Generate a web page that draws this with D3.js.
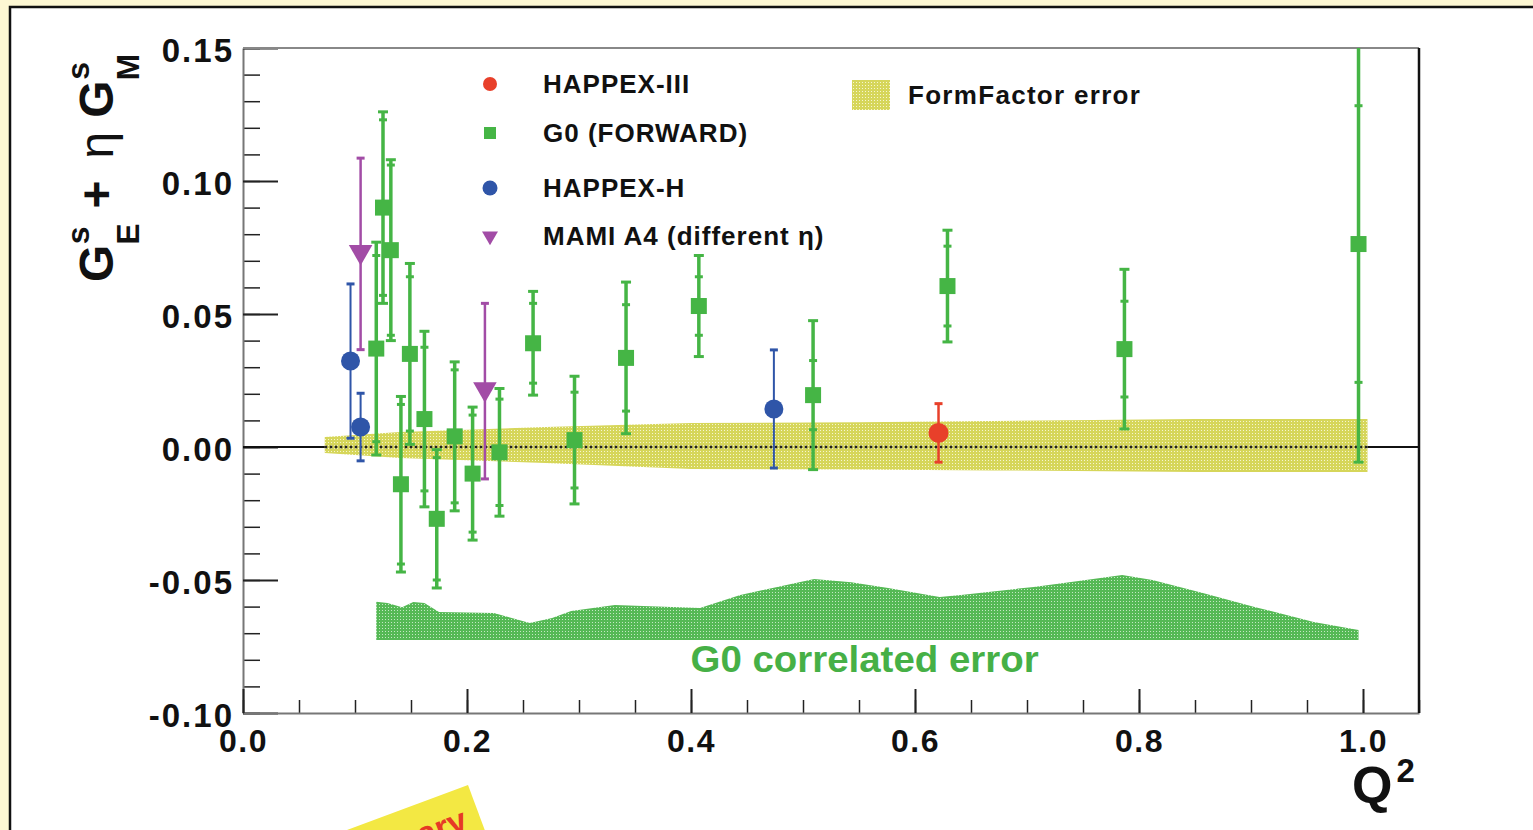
<!DOCTYPE html>
<html>
<head>
<title>Strange form factors vs Q2</title>
<script src="https://d3js.org/d3.v7.min.js"></script>
<style>
    body { margin: 0; background: #fdf7d3; }
    svg { display: block; }
    text { font-family: "Liberation Sans", Arial, sans-serif; font-weight: bold; }
</style>
</head>
<body>
<svg id="chart" width="1533" height="830"></svg>
<script>
// ---- data ----
// G0 (FORWARD): Q2, value, stat error (inner ticks), total error (outer caps)
const g0Q2   = [0.119, 0.125, 0.132, 0.141, 0.149, 0.162, 0.173, 0.189, 0.205, 0.229, 0.259, 0.296, 0.342, 0.407, 0.509, 0.629, 0.787, 0.996];
const g0Val  = [0.037, 0.090, 0.074, -0.014, 0.035, 0.0105, -0.027, 0.004, -0.010, -0.002, 0.039, 0.0026, 0.0335, 0.053, 0.0195, 0.0605, 0.0368, 0.0763];
const g0Stat = [0.035, 0.033, 0.032, 0.030, 0.029, 0.027, 0.023, 0.025, 0.022, 0.020, 0.015, 0.018, 0.020, 0.011, 0.013, 0.015, 0.018, 0.052];
const g0Tot  = [0.040, 0.036, 0.034, 0.033, 0.034, 0.033, 0.026, 0.028, 0.025, 0.024, 0.0195, 0.024, 0.0285, 0.019, 0.028, 0.021, 0.030, 0.082];

const hapHQ2  = [0.096, 0.105, 0.474];
const hapHVal = [0.0323, 0.0075, 0.0143];
const hapHErr = [0.029, 0.0127, 0.0222];

const hap3Q2  = [0.621];
const hap3Val = [0.0053];
const hap3Err = [0.011];

const mamiQ2  = [0.105, 0.216];
const mamiVal = [0.0726, 0.021];
const mamiErr = [0.036, 0.033];

// FormFactor error band
const ffQ2 = [0.073, 0.10, 0.14, 0.20, 0.27, 0.40, 0.55, 0.67, 0.85, 1.004];
const ffHi = [0.0038, 0.0045, 0.0056, 0.0065, 0.0075, 0.0090, 0.0093, 0.0098, 0.0105, 0.0105];
const ffLo = [-0.0023, -0.0030, -0.0041, -0.0050, -0.0060, -0.0083, -0.0085, -0.0088, -0.0094, -0.0094];

// G0 correlated error band (top edge, flat bottom)
const corrQ2  = [0.119, 0.129, 0.142, 0.152, 0.162, 0.175, 0.224, 0.240, 0.256, 0.276, 0.293, 0.332, 0.408, 0.444, 0.477, 0.510, 0.543, 0.576, 0.622, 0.641, 0.706, 0.746, 0.785, 0.812, 0.857, 0.904, 0.956, 0.996];
const corrTop = [-0.0582, -0.0586, -0.0602, -0.0583, -0.0586, -0.0620, -0.0624, -0.0643, -0.0662, -0.0643, -0.0617, -0.0594, -0.0605, -0.0556, -0.0526, -0.0496, -0.0508, -0.0530, -0.0564, -0.0556, -0.0526, -0.0504, -0.0481, -0.0500, -0.0549, -0.0602, -0.0658, -0.0688];
const corrBottom = -0.0726;

const xMajor = [0, 0.2, 0.4, 0.6, 0.8, 1.0];
const yMajor = [-0.10, -0.05, 0, 0.05, 0.10, 0.15];

const legendLabels = ["HAPPEX-III", "G0 (FORWARD)", "HAPPEX-H", "MAMI A4 (different \u03b7)"];

const colGreen = "#45b545", colRed = "#e8402a", colBlue = "#2f55a8", colPurple = "#a24ca6";

// ---- layout ----
const svg = d3.select("#chart");
const frame = { left: 243, right: 1419, top: 48, bottom: 713 };

const x = d3.scaleLinear().domain([0, 1.05]).range([frame.left, frame.right]);
const y = d3.scaleLinear().domain([-0.10, 0.15]).range([frame.bottom, frame.top]);

// page: yellow margin with a white sheet
svg.append("rect").attr("width", 1533).attr("height", 830).attr("fill", "#fdf7d3");
svg.append("rect").attr("x", 10).attr("y", 7).attr("width", 1600).attr("height", 900)
    .attr("fill", "#fff").attr("stroke", "#111").attr("stroke-width", 2.5);

const defs = svg.append("defs");
const ffPat = defs.append("pattern").attr("id", "ffHatch").attr("patternUnits", "userSpaceOnUse")
    .attr("width", 3).attr("height", 3);
ffPat.append("rect").attr("width", 3).attr("height", 3).attr("fill", "#d6d65a");
ffPat.append("rect").attr("x", 1).attr("y", 1).attr("width", 1).attr("height", 1).attr("fill", "#f6f6d0");
const gPat = defs.append("pattern").attr("id", "g0Hatch").attr("patternUnits", "userSpaceOnUse")
    .attr("width", 3).attr("height", 3);
gPat.append("rect").attr("width", 3).attr("height", 3).attr("fill", "#55b955");
gPat.append("rect").attr("x", 1).attr("y", 1).attr("width", 1).attr("height", 1).attr("fill", "#c4e8c4");
defs.append("clipPath").attr("id", "plotClip").append("rect")
    .attr("x", frame.left).attr("y", frame.top)
    .attr("width", frame.right - frame.left).attr("height", frame.bottom - frame.top);

// ---- axes ----
const fmtY = d => d.toFixed(2);
const fmtX = d => d.toFixed(1);

const yMinor = d3.range(-0.10, 0.1501, 0.01).map(v => +v.toFixed(2));
const xMinor = d3.range(0, 1.0501, 0.05).map(v => +v.toFixed(2));

svg.append("g").attr("transform", `translate(${frame.left},0)`)
    .call(d3.axisLeft(y).tickValues(yMinor).tickSize(-17).tickSizeOuter(0).tickFormat(""))
    .call(g => g.select(".domain").remove())
    .selectAll("line").attr("stroke", "#222").attr("stroke-width", 1.5);

svg.append("g").attr("class", "y-axis").attr("transform", `translate(${frame.left},0)`)
    .call(d3.axisLeft(y).tickValues(yMajor).tickSize(-35).tickSizeOuter(0).tickPadding(9).tickFormat(fmtY))
    .call(g => g.select(".domain").attr("stroke", "#777").attr("stroke-width", 2))
    .call(g => g.selectAll("line").attr("stroke", "#222").attr("stroke-width", 2))
    .selectAll("text")
        .attr("dy", "0.4em")
        .style("font-size", "33px").style("letter-spacing", "2px").attr("fill", "#111");

svg.append("g").attr("transform", `translate(0,${frame.bottom})`)
    .call(d3.axisBottom(x).tickValues(xMinor).tickSize(-13).tickSizeOuter(0).tickFormat(""))
    .call(g => g.select(".domain").remove())
    .selectAll("line").attr("stroke", "#222").attr("stroke-width", 1.5);

svg.append("g").attr("transform", `translate(0,${frame.bottom})`)
    .call(d3.axisBottom(x).tickValues(xMajor).tickSize(-24).tickSizeOuter(0).tickPadding(16).tickFormat(fmtX))
    .call(g => g.select(".domain").attr("stroke", "#777").attr("stroke-width", 2))
    .call(g => g.selectAll("line").attr("stroke", "#222").attr("stroke-width", 2))
    .selectAll("text")
        .style("font-size", "32px").style("letter-spacing", "1.5px").attr("fill", "#111");

// frame top and right
svg.append("line").attr("x1", frame.left).attr("x2", frame.right).attr("y1", frame.top).attr("y2", frame.top)
    .attr("stroke", "#888").attr("stroke-width", 2);
svg.append("line").attr("x1", frame.right).attr("x2", frame.right).attr("y1", frame.top).attr("y2", frame.bottom)
    .attr("stroke", "#111").attr("stroke-width", 2.5);

// zero line
svg.append("line").attr("x1", frame.left).attr("x2", frame.right).attr("y1", y(0)).attr("y2", y(0))
    .attr("stroke", "#111").attr("stroke-width", 2);

const plot = svg.append("g").attr("clip-path", "url(#plotClip)");

// ---- bands ----
const ffData = ffQ2.map((q, i) => ({ q: q, lo: ffLo[i], hi: ffHi[i] }));
plot.append("path").datum(ffData)
    .attr("d", d3.area().x(d => x(d.q)).y0(d => y(d.lo)).y1(d => y(d.hi)))
    .attr("fill", "url(#ffHatch)");
plot.append("line").attr("x1", x(ffQ2[0])).attr("x2", x(ffQ2[ffQ2.length - 1]))
    .attr("y1", y(0)).attr("y2", y(0))
    .attr("stroke", "#222").attr("stroke-width", 2.5).attr("stroke-dasharray", "2.5,2.5");

const corrData = corrQ2.map((q, i) => ({ q: q, top: corrTop[i] }));
plot.append("path").datum(corrData)
    .attr("d", d3.area().x(d => x(d.q)).y0(y(corrBottom)).y1(d => y(d.top)))
    .attr("fill", "url(#g0Hatch)");

svg.append("text").attr("x", x(0.555)).attr("y", 672).attr("text-anchor", "middle")
    .attr("textLength", 348).attr("lengthAdjust", "spacingAndGlyphs")
    .style("font-size", "36px").attr("fill", "#46b046").text("G0 correlated error");

// ---- error bars and markers ----
function errBars(q, v, e, color, width, cap) {
    const rows = q.map((d, i) => ({ q: d, v: v[i], e: e[i] }));
    const g = plot.append("g").attr("stroke", color).attr("stroke-width", width);
    g.selectAll(".bar").data(rows).enter().append("line")
        .attr("x1", d => x(d.q)).attr("x2", d => x(d.q))
        .attr("y1", d => y(d.v + d.e)).attr("y2", d => y(d.v - d.e));
    [1, -1].forEach(s => {
        g.selectAll(".cap" + s).data(rows).enter().append("line")
            .attr("x1", d => x(d.q) - cap / 2).attr("x2", d => x(d.q) + cap / 2)
            .attr("y1", d => y(d.v + s * d.e)).attr("y2", d => y(d.v + s * d.e))
            .attr("stroke-width", 3);
    });
    return rows;
}

// G0
const g0Rows = errBars(g0Q2, g0Val, g0Tot, colGreen, 3.5, 10);
const g0Stats = plot.append("g").attr("stroke", colGreen).attr("stroke-width", 3);
[1, -1].forEach(s => {
    g0Stats.selectAll(".st" + s).data(g0Q2.map((q, i) => ({ q: q, v: g0Val[i], e: g0Stat[i] })))
        .enter().append("line")
        .attr("x1", d => x(d.q) - 4).attr("x2", d => x(d.q) + 4)
        .attr("y1", d => y(d.v + s * d.e)).attr("y2", d => y(d.v + s * d.e));
});
plot.append("g").selectAll("rect").data(g0Rows).enter().append("rect")
    .attr("x", d => x(d.q) - 8).attr("y", d => y(d.v) - 8).attr("width", 16).attr("height", 16)
    .attr("fill", colGreen);

// HAPPEX-H
const hRows = errBars(hapHQ2, hapHVal, hapHErr, colBlue, 2, 8);
plot.append("g").selectAll("circle").data(hRows).enter().append("circle")
    .attr("cx", d => x(d.q)).attr("cy", d => y(d.v)).attr("r", 9.5).attr("fill", colBlue);

// MAMI A4
const mRows = errBars(mamiQ2, mamiVal, mamiErr, colPurple, 2.5, 8);
plot.append("g").selectAll("path").data(mRows).enter().append("path")
    .attr("d", d3.symbol(d3.symbolTriangle, 240))
    .attr("transform", d => `translate(${x(d.q)},${y(d.v) - 2}) rotate(180)`)
    .attr("fill", colPurple);

// HAPPEX-III
const rRows = errBars(hap3Q2, hap3Val, hap3Err, colRed, 2.5, 8);
plot.append("g").selectAll("circle").data(rRows).enter().append("circle")
    .attr("cx", d => x(d.q)).attr("cy", d => y(d.v)).attr("r", 10).attr("fill", colRed);

// ---- legend ----
const legY = [84, 133, 188, 236];
const leg = svg.append("g");
leg.append("circle").attr("cx", 490).attr("cy", legY[0]).attr("r", 7).attr("fill", colRed);
leg.append("rect").attr("x", 484).attr("y", legY[1] - 6).attr("width", 12).attr("height", 12).attr("fill", colGreen);
leg.append("circle").attr("cx", 490).attr("cy", legY[2]).attr("r", 7.5).attr("fill", colBlue);
leg.append("path").attr("d", d3.symbol(d3.symbolTriangle, 110))
    .attr("transform", `translate(490,${legY[3]}) rotate(180)`).attr("fill", colPurple);
leg.selectAll("text").data(legendLabels).enter().append("text")
    .attr("x", 543).attr("y", (d, i) => legY[i] + 9)
    .style("font-size", "26px").style("letter-spacing", "1px").attr("fill", "#111")
    .text(d => d);
leg.append("rect").attr("x", 852).attr("y", 80).attr("width", 38).attr("height", 30).attr("fill", "url(#ffHatch)");
leg.append("text").attr("x", 908).attr("y", 104)
    .style("font-size", "26px").style("letter-spacing", "1.3px").attr("fill", "#111").text("FormFactor error");

// ---- axis titles ----
const yt = svg.append("text").attr("transform", "translate(113,282) rotate(-90)")
    .style("font-size", "48px").attr("fill", "#111");
yt.append("tspan").text("G");
yt.append("tspan").attr("dy", 26).style("font-size", "32px").text("E");
yt.append("tspan").attr("dx", -21).attr("dy", -50).style("font-size", "32px").text("s");
yt.append("tspan").attr("dx", 18).attr("dy", 24).text("+");
yt.append("tspan").attr("dx", 22).style("font-weight", "normal").text("\u03b7");
yt.append("tspan").attr("dx", 14).text("G");
yt.append("tspan").attr("dy", 26).style("font-size", "32px").text("M");
yt.append("tspan").attr("dx", -26).attr("dy", -50).style("font-size", "32px").text("s");

const xt = svg.append("text").attr("x", 1352).attr("y", 803).style("font-size", "52px").attr("fill", "#111");
xt.append("tspan").text("Q");
xt.append("tspan").attr("dx", 4).attr("dy", -21).style("font-size", "33px").text("2");

// ---- "Preliminary" sticker, mostly off the bottom ----
const sticker = svg.append("g").attr("transform", "translate(468,785) rotate(-20.4)");
sticker.append("rect").attr("x", -320).attr("y", 0).attr("width", 320).attr("height", 90).attr("fill", "#f3e843");
sticker.append("text").attr("x", -14).attr("y", 42).attr("text-anchor", "end")
    .style("font-size", "34px").attr("fill", "#e63a26").text("Preliminary");
</script>
</body>
</html>
